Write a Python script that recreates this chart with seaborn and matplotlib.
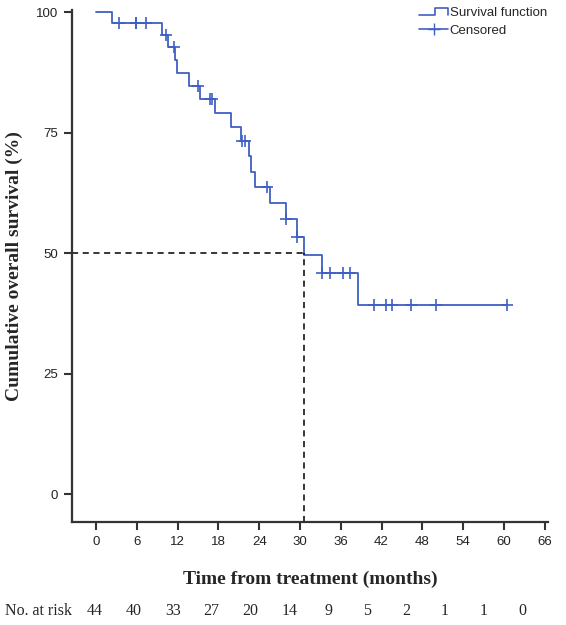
import numpy as np
import pandas as pd
import matplotlib
matplotlib.use("Agg")
import matplotlib.pyplot as plt
import seaborn as sns
from matplotlib.lines import Line2D
from matplotlib.legend_handler import HandlerBase

# Kaplan-Meier steps (months, %)
step_times = [0, 2.4, 9.7, 10.6, 11.6, 11.9, 13.6, 15.3, 17.5, 19.8, 21.3,
              22.5, 22.75, 23.4, 25.6, 27.9, 29.5, 30.6, 33.2, 38.6]
step_surv = [100, 97.7, 95.2, 92.7, 90.0, 87.4, 84.7, 82.0, 79.1, 76.2, 73.3,
             70.1, 66.9, 63.7, 60.4, 57.0, 53.4, 49.6, 45.8, 39.3]
censor_times = [3.4, 5.8, 5.8, 7.4, 10.3, 11.5, 15.0, 16.8, 17.1, 21.4, 21.9,
                25.2, 28.0, 29.6, 33.3, 34.4, 36.3, 37.4, 40.9, 42.6, 43.5,
                46.3, 50.0, 60.5]
median_time = 30.6

tick_months = [0, 6, 12, 18, 24, 30, 36, 42, 48, 54, 60, 66]
at_risk = [44, 40, 33, 27, 20, 14, 9, 5, 2, 1, 1, 0]

blue = "#3f5fc4"
axis_col = "#333333"

curve = pd.DataFrame({
    "t": step_times + [max(censor_times)],
    "s": step_surv + [step_surv[-1]],
})
idx = np.searchsorted(step_times, censor_times, side="right") - 1
cens = pd.DataFrame({"t": censor_times, "s": np.array(step_surv)[idx]})


class StepHandler(HandlerBase):
    def create_artists(self, legend, orig_handle, xdescent, ydescent,
                       width, height, fontsize, trans):
        x0, x1 = -xdescent, -xdescent + width
        y0, y1 = -ydescent + height * 0.15, -ydescent + height * 0.9
        xm = x0 + width * 0.55
        ln = Line2D([x0, xm, xm, x1, x1], [y0, y0, y1, y1, y0],
                    color=orig_handle.get_color(), lw=1.2, transform=trans)
        return [ln]


sns.set_style("white")
plt.rcParams["font.family"] = ["Liberation Sans", "DejaVu Sans"]

fig = plt.figure(figsize=(5.66, 6.25), dpi=100)
ax = fig.add_axes([0.1267, 0.1653, 0.8415, 0.8193])

sns.lineplot(data=curve, x="t", y="s", drawstyle="steps-post", color=blue,
             lw=1.3, estimator=None, sort=False, ax=ax)
sns.scatterplot(data=cens, x="t", y="s", marker="+", s=75, color=blue,
                linewidth=1.2, ax=ax, zorder=3)

xlo, ylo = -3.6, -5.7
ax.set_xlim(xlo, 66.5)
ax.set_ylim(ylo, 100.5)
ax.plot([xlo, median_time], [50, 50], color="black", ls=(0, (4, 3)), lw=1.1)
ax.plot([median_time, median_time], [ylo, 50], color="black", ls=(0, (4, 3)), lw=1.1)

ax.set_xticks(tick_months)
ax.set_yticks([0, 25, 50, 75, 100])
ax.tick_params(bottom=True, left=True, direction="out", length=6, width=1.5,
               colors=axis_col, labelsize=9.5, labelcolor="#222222", pad=4)
for side in ["top", "right"]:
    ax.spines[side].set_visible(False)
for side in ["left", "bottom"]:
    ax.spines[side].set_color(axis_col)
    ax.spines[side].set_linewidth(1.6)

ax.set_xlabel("Time from treatment (months)", family="Liberation Serif",
              fontsize=14, fontweight="bold", labelpad=17)
ax.set_ylabel("Cumulative overall survival (%)", family="Liberation Serif",
              fontsize=14, fontweight="bold", labelpad=9)

h1 = Line2D([], [], color=blue)
h2 = Line2D([], [], color=blue, marker="+", markersize=9, lw=1.2)
fig.legend([h1, h2], ["Survival function", "Censored"],
           handler_map={h1: StepHandler()}, loc="upper left",
           bbox_to_anchor=(0.72, 1.008), frameon=False, fontsize=9.5,
           handlelength=2.2, handletextpad=0.1, labelspacing=0.4)

# number at risk row
rax = fig.add_axes([0.1678, 0.0, 0.756, 0.045])
rax.set_xlim(0, 66)
rax.set_ylim(0, 1)
rax.axis("off")
for t, n in zip(tick_months, at_risk):
    rax.text(t, 0.5, str(n), ha="center", va="center",
             family="Liberation Serif", fontsize=11.5)
fig.text(0.008, 0.0225, "No. at risk", ha="left", va="center",
         family="Liberation Serif", fontsize=11.5)

fig.savefig("out.png", dpi=100)
